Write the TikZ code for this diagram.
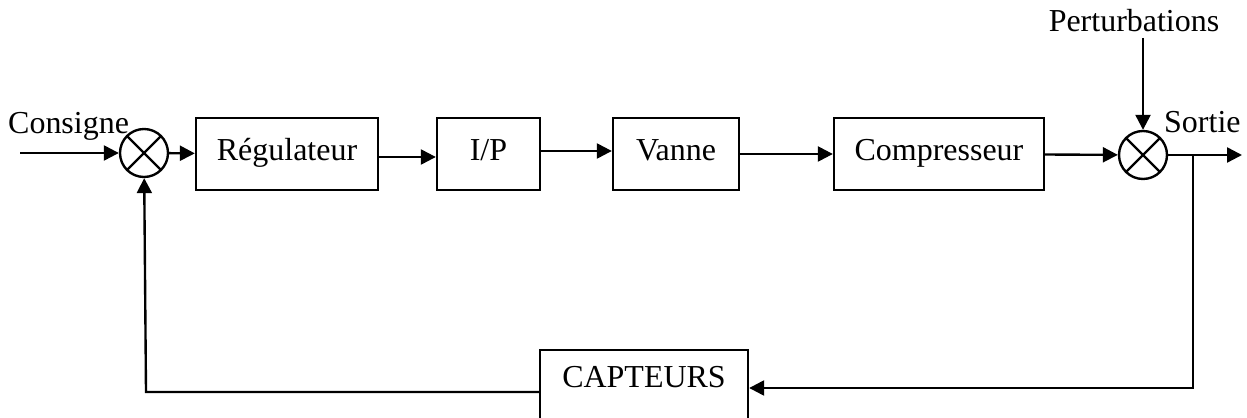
\documentclass[tikz,border=0pt]{standalone}
\usepackage{fontspec}
\setmainfont{Liberation Serif}
\usetikzlibrary{arrows.meta}
\tikzset{
  bloc/.style={draw, minimum height=1.44cm, inner sep=0pt, text height=0.35cm, text depth=0.1cm},
  somme/.style={draw, circle, minimum size=0.96cm, inner sep=0pt,
    path picture={\draw (path picture bounding box.north west) -- (path picture bounding box.south east)
                        (path picture bounding box.north east) -- (path picture bounding box.south west);}},
  fleche/.style={-{Triangle[length=0.3cm,width=0.3cm]}},
  label/.style={inner sep=0pt}
}
\begin{document}
\begin{tikzpicture}[x=0.02cm,y=-0.02cm,line width=1.35pt,font=\fontsize{18.2}{21}\selectfont]
  \useasboundingbox (0,0) rectangle (1247,418);
  \draw
    (144,153) node[somme] (s1){}
    (287,154) node[bloc,minimum width=3.64cm] (reg){Régulateur}
    (488.5,154) node[bloc,minimum width=2.06cm] (ip){I/P}
    (676,154) node[bloc,minimum width=2.52cm] (vanne){Vanne}
    (939,154) node[bloc,minimum width=4.2cm] (comp){Compresseur}
    (1143,155) node[somme] (s2){}
    (644,387) node[draw,anchor=base,inner sep=0pt,minimum width=4.16cm,
                   text height=0.74cm,text depth=0.9cm] (capt){CAPTEURS}
    (7,134) node[label,anchor=base west] (cons){Consigne}
    (1134,32) node[label,anchor=base] (pert){Perturbations}
    (1163,133) node[label,anchor=base west] (sort){Sortie};
  \coordinate (e) at (20,153);
  \coordinate (p) at (1143,38);
  \coordinate (fin) at (1242,155);
  \coordinate (b) at (1193,155);
  \coordinate (b2) at (1193,388);
  \coordinate (c2) at (146,392);
  \begin{scope}[fleche]
    \draw (e) -- (s1);
    \draw (s1) -- (reg);
    \draw ([yshift=-0.06cm]reg.east) -- ([yshift=-0.06cm]ip.west);
    \draw ([yshift=0.06cm]ip.east) -- ([yshift=0.06cm]vanne.west);
    \draw (vanne) -- (comp);
    \draw (comp) -- (s2);
    \draw (p) -- (s2);
    \draw (s2) -- (fin);
    \draw (b) -- (b2) -- (capt.east |- b2);
    \draw (capt.west |- c2) -- (c2) -- (s1);
  \end{scope}
\end{tikzpicture}
\end{document}
